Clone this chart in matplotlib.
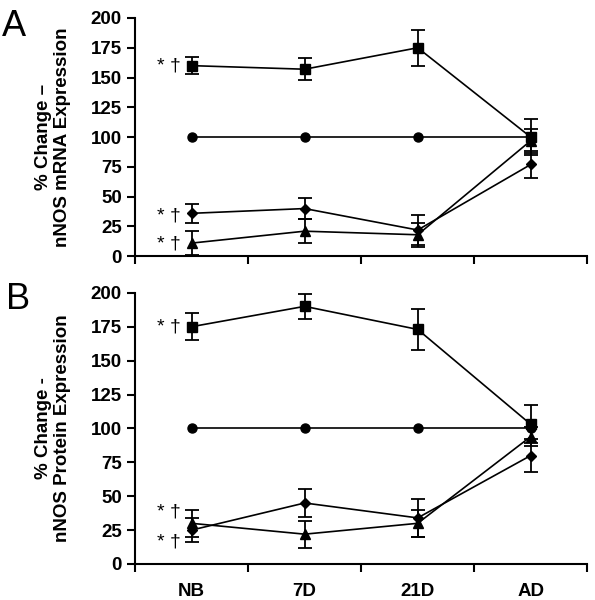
import numpy as np
import matplotlib.pyplot as plt

plt.rcParams["font.family"] = ["Liberation Sans", "DejaVu Sans"]

groups = ["NB", "7D", "21D", "AD"]

# panel A: mRNA
a_square = [160, 157, 175, 100]
a_square_err = [7, 9, 15, 15]
a_circle = [100, 100, 100, 100]
a_diamond = [36, 40, 22, 77]
a_diamond_err = [8, 9, 13, 11]
a_triangle = [11, 21, 18, 97]
a_triangle_err = [10, 10, 10, 10]
a_marks = [160, 34, 10]

# panel B: protein
b_square = [175, 190, 173, 103]
b_square_err = [10, 9, 15, 14]
b_circle = [100, 100, 100, 100]
b_diamond = [25, 45, 34, 80]
b_diamond_err = [9, 10, 14, 12]
b_triangle = [30, 22, 30, 94]
b_triangle_err = [10, 10, 10, 7]
b_marks = [175, 38, 16]

yticks = [0, 25, 50, 75, 100, 125, 150, 175, 200]


def draw(ax, sq, sqe, ci, di, die, tr, tre, marks):
    x = np.arange(len(groups))
    kw = dict(color="black", lw=1.2, capsize=5, capthick=1.3, elinewidth=1.3)
    ax.errorbar(x, sq, yerr=sqe, marker="s", ms=6.5, **kw)
    ax.plot(x, ci, marker="o", ms=6.5, color="black", lw=1.2)
    ax.errorbar(x, di, yerr=die, marker="D", ms=5.5, **kw)
    ax.errorbar(x, tr, yerr=tre, marker="^", ms=7, **kw)
    for m in marks:
        ax.text(-0.1, m, "* \u2020", ha="right", va="center", fontsize=14)
    ax.set_xlim(-0.5, 3.5)
    ax.set_ylim(0, 200)
    ax.set_yticks(yticks)
    ax.set_xticks(np.arange(-0.5, 4, 1))
    ax.set_xticklabels([])
    ax.set_xticks(x, minor=True)
    ax.tick_params(axis="x", which="minor", length=0, labelsize=13.5, pad=14)
    ax.tick_params(axis="both", which="major", direction="out", length=6, width=1.5, labelsize=13.5)
    for lab in ax.get_yticklabels():
        lab.set_fontweight("bold")
    for s in ["top", "right"]:
        ax.spines[s].set_visible(False)
    for s in ["left", "bottom"]:
        ax.spines[s].set_linewidth(1.5)


fig = plt.figure(figsize=(5.95, 6.0), dpi=100)
axA = fig.add_axes([0.227, 0.573, 0.76, 0.397])
axB = fig.add_axes([0.227, 0.06, 0.76, 0.452])

draw(axA, a_square, a_square_err, a_circle, a_diamond, a_diamond_err,
     a_triangle, a_triangle_err, a_marks)
draw(axB, b_square, b_square_err, b_circle, b_diamond, b_diamond_err,
     b_triangle, b_triangle_err, b_marks)

axB.set_xticklabels(groups, minor=True, fontweight="bold")

axA.set_ylabel("% Change \u2013\nnNOS mRNA Expression", fontsize=13.5, fontweight="bold", labelpad=14)
axB.set_ylabel("% Change -\nnNOS Protein Expression", fontsize=13.5, fontweight="bold", labelpad=14)

fig.text(0.003, 0.985, "A", fontsize=26, va="top")
fig.text(0.01, 0.53, "B", fontsize=26, va="top")

fig.savefig("out.png", dpi=100)
